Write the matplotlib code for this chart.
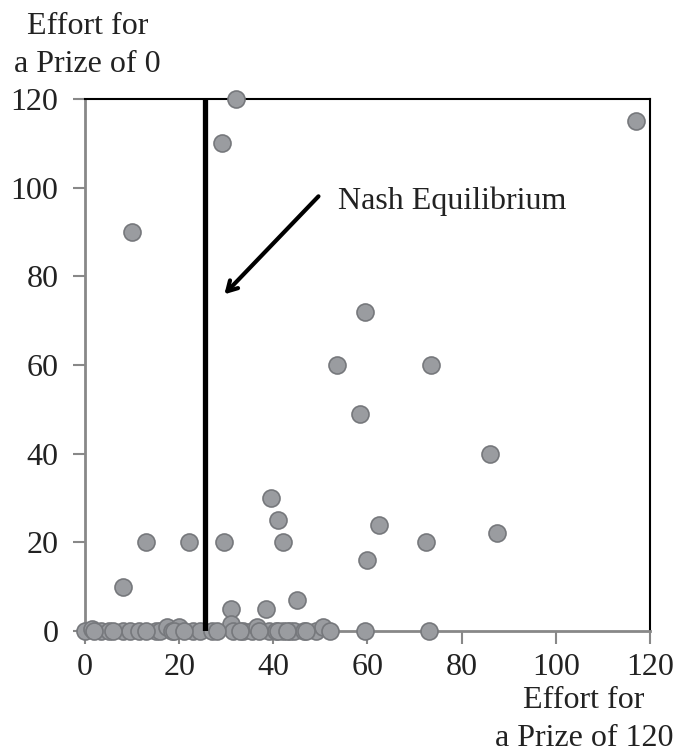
import matplotlib.pyplot as plt

# effort for a prize of 120 (x) and effort for a prize of 0 (y)
effort_120 = [117, 32, 29, 10, 59.5, 53.5, 73.5, 58.5, 86, 62.5, 60, 72.5, 87.5,
              13, 22, 29.5, 42, 41, 39.5, 8, 31, 38.5, 45,
              0, 1.5, 3.5, 5, 8, 9.5, 11.5, 15, 16, 17.5, 18.5, 20, 23, 24.5,
              27, 31, 31.5, 33.5, 35.5, 36.5, 39, 40.5, 42, 43.5, 44.5, 46.5,
              49, 50.5, 52, 59.5, 73,
              2, 6, 13, 19, 21, 28, 33, 37, 41, 43, 47]
effort_0 = [115, 120, 110, 90, 72, 60, 60, 49, 40, 24, 16, 20, 22,
            20, 20, 20, 20, 25, 30, 10, 5, 5, 7,
            0, 0.5, 0, 0, 0, 0, 0, 0, 0, 1, 0, 1, 0, 0,
            0, 1.5, 0, 0, 0, 1, 0, 0, 0, 0, 0, 0,
            0, 1, 0, 0, 0,
            0, 0, 0, 0, 0, 0, 0, 0, 0, 0, 0]
nash_x = 25.5
ticks = [0, 20, 40, 60, 80, 100, 120]

plt.rcParams['font.family'] = ['Liberation Serif', 'DejaVu Serif']
fs = 23

fig = plt.figure(figsize=(6.76, 7.53), dpi=100)
ax = fig.add_axes([0.1257, 0.162, 0.8358, 0.7065])

ax.scatter(effort_120, effort_0, s=150, color='#9a9ca0', edgecolor='#76787c',
           linewidth=1.2, zorder=4, clip_on=False)
ax.plot([nash_x, nash_x], [0, 120], color='black', lw=3.8, zorder=5,
        solid_capstyle='butt')

ax.annotate('', xy=(29.2, 75.5), xytext=(50, 98.5),
            arrowprops=dict(arrowstyle='->,head_length=0.7,head_width=0.4',
                            lw=3, color='black'))
ax.text(53.8, 97, 'Nash Equilibrium', fontsize=fs, va='center', ha='left',
        color='#222222')

ax.set_xlim(0, 120)
ax.set_ylim(0, 120)
ax.set_xticks(ticks)
ax.set_yticks(ticks)
ax.tick_params(axis='both', labelsize=fs, length=9, width=1.5, color='#888888',
               labelcolor='#222222')
ax.tick_params(axis='y', pad=10)
ax.tick_params(axis='x', pad=7)

for side in ['top', 'right']:
    ax.spines[side].set_color('black')
    ax.spines[side].set_linewidth(1.5)
for side in ['left', 'bottom']:
    ax.spines[side].set_color('#888888')
    ax.spines[side].set_linewidth(2)

fig.text(0.129, 0.940, 'Effort for\na Prize of 0', fontsize=fs, ha='center',
         va='center', linespacing=1.4, color='#222222')
fig.text(0.864, 0.045, 'Effort for\na Prize of 120', fontsize=fs, ha='center',
         va='center', linespacing=1.4, color='#222222')

fig.savefig('out.png', dpi=100)
